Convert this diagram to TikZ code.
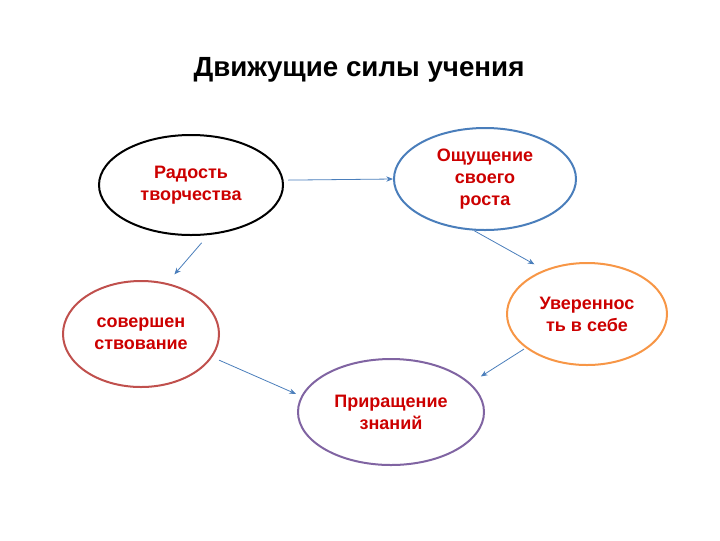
\documentclass[tikz,border=0pt]{standalone}
\usepackage{fontspec}
\setmainfont{Liberation Sans}
\usetikzlibrary{shapes.geometric,arrows.meta}
\definecolor{txtred}{RGB}{204,0,0}
\definecolor{cblue}{RGB}{74,126,187}
\definecolor{corange}{RGB}{247,150,70}
\definecolor{cred}{RGB}{192,80,77}
\definecolor{cpurple}{RGB}{128,100,162}
\definecolor{arrowblue}{RGB}{74,126,187}
\tikzset{
  ell/.style={ellipse, inner sep=0pt, line width=1.5pt},
  txt/.style={text=txtred, font=\fontsize{13.5}{16.5}\selectfont\bfseries, align=center},
  conn/.style={draw=arrowblue, line width=0.6pt, -{Stealth[length=5pt,width=4pt]}}
}
\begin{document}
\begin{tikzpicture}[x=0.75pt,y=-0.75pt]
\useasboundingbox (0,0) rectangle (720,540);
\node[font=\fontsize{20.8}{24}\selectfont\bfseries] (title) at (359,70) {Движущие силы учения};
\node[ell, draw=black, minimum width=138pt, minimum height=75pt,
  label={[txt]center:{Радость\\творчества}}] (r) at (191,185) {};
\node[ell, draw=cblue, minimum width=136.5pt, minimum height=76.5pt,
  label={[txt]center:{Ощущение\\своего\\роста}}] (o) at (485,179) {};
\node[ell, draw=corange, minimum width=120pt, minimum height=76.5pt,
  label={[txt]center:{Увереннос\\ть в себе}}] (u) at (587,314) {};
\node[ell, draw=cred, minimum width=117pt, minimum height=79.5pt,
  label={[txt]center:{совершен\\ствование}}] (s) at (141,334) {};
\node[ell, draw=cpurple, minimum width=139.5pt, minimum height=79.5pt,
  label={[txt]center:{Приращение\\знаний}}] (p) at (391,412) {};
\draw[conn, shorten <=3.6pt] (r.3.7) -- (o.180);
\draw[conn, shorten <=7.6pt, shorten >=8.5pt] (r.-71.4) -- (s.63.9);
\draw[conn, shorten >=8.5pt] (o.-102) -- (u.134.2);
\draw[conn, shorten <=1.5pt, shorten >=9.3pt] (u.-151) -- (p.20);
\draw[conn, shorten <=5.5pt, shorten >=4.3pt] (s.-18.2) -- (p.170);
\end{tikzpicture}
\end{document}
